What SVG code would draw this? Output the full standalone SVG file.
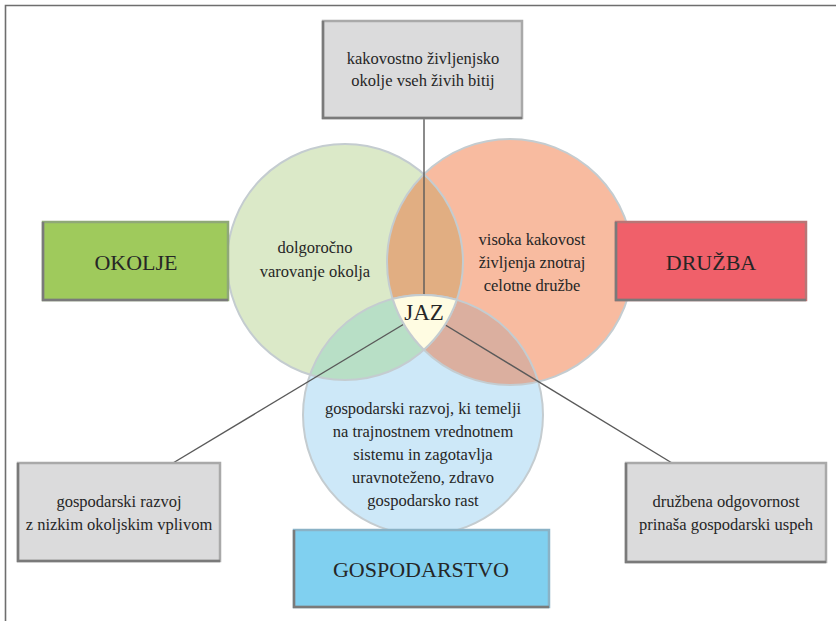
<svg xmlns="http://www.w3.org/2000/svg" width="836" height="621" viewBox="0 0 836 621">
<style>
text{font-family:"Liberation Serif","DejaVu Serif",serif;fill:#262626;text-anchor:middle}
.t{font-size:16.5px}
.big{font-size:22px}
.ring{fill:none;stroke:#c4ccd0;stroke-width:2}
.conn{stroke:#5a5a5a;stroke-width:1.4;fill:none}
.gbox{fill:#dbdbdc;stroke:#a9a9a9;stroke-width:2.5}
.sh{fill:none;stroke:#7a7a7a;stroke-width:2.5}
</style>
<defs>
<clipPath id="cg"><circle cx="345" cy="262" r="118"/></clipPath>
<clipPath id="co"><circle cx="510" cy="262" r="123"/></clipPath>
</defs>
<rect width="836" height="621" fill="#fff"/>
<polyline points="5.5,621 5.5,5.5 836,5.5" fill="none" stroke="#6e6e6e" stroke-width="1.6"/>

<g id="circles">
<circle cx="345" cy="262" r="118" fill="#dbe9c8"/>
<circle cx="510" cy="262" r="123" fill="#f8bba0"/>
<circle cx="423" cy="415" r="120" fill="#cde8f8"/>
<circle cx="510" cy="262" r="123" fill="#e1ae82" clip-path="url(#cg)"/>
<circle cx="423" cy="415" r="120" fill="#b8dfc6" clip-path="url(#cg)"/>
<circle cx="423" cy="415" r="120" fill="#dbaf9f" clip-path="url(#co)"/>
<circle class="ring" cx="345" cy="262" r="118"/>
<circle class="ring" cx="510" cy="262" r="123"/>
<circle class="ring" cx="423" cy="415" r="120"/>
<text class="t" x="315" y="253">dolgoročno</text>
<text class="t" x="315" y="277">varovanje okolja</text>
<text class="t" x="532" y="245">visoka kakovost</text>
<text class="t" x="532" y="268">življenja znotraj</text>
<text class="t" x="532" y="291">celotne družbe</text>
<text class="t" x="423" y="414">gospodarski razvoj, ki temelji</text>
<text class="t" x="423" y="437">na trajnostnem vrednotnem</text>
<text class="t" x="423" y="460">sistemu in zagotavlja</text>
<text class="t" x="423" y="483">uravnoteženo, zdravo</text>
<text class="t" x="423" y="506">gospodarsko rast</text>
</g>

<g id="connectors">
<line class="conn" x1="424" y1="119" x2="424" y2="322"/>
<line class="conn" x1="424" y1="312" x2="173" y2="463"/>
<line class="conn" x1="424" y1="312" x2="672" y2="463"/>
</g>

<g id="jaz">
<path d="M392.7 298.9 A120 120 0 0 1 456.8 299.9 A118 118 0 0 1 423.9 349.8 A123 123 0 0 1 392.7 298.9 Z" fill="#fffce2" stroke="#c4ccd0" stroke-width="2"/>
<text x="424" y="320" style="font-size:23px">JAZ</text>
</g>

<g id="top-box">
<rect class="gbox" x="323" y="21" width="199" height="97"/>
<polyline class="sh" points="323,21 323,118 522,118"/>
<text class="t" x="423" y="64">kakovostno življenjsko</text>
<text class="t" x="423" y="86">okolje vseh živih bitij</text>
</g>

<g id="okolje">
<rect x="43" y="222" width="185" height="78" fill="#9fca5c" stroke="#8fa878" stroke-width="2.5"/>
<polyline class="sh" points="43,222 43,300 228,300"/>
<text class="big" x="136" y="270">OKOLJE</text>
</g>

<g id="druzba">
<rect x="616" y="222" width="190" height="78" fill="#f0606a" stroke="#b87676" stroke-width="2.5"/>
<polyline class="sh" points="616,222 616,300 806,300"/>
<text class="big" x="711" y="270">DRUŽBA</text>
</g>

<g id="gospodarstvo">
<rect x="294" y="530" width="255" height="77" fill="#80d0f0" stroke="#8ab2c6" stroke-width="2.5"/>
<polyline class="sh" points="294,530 294,607 549,607"/>
<text class="big" x="421" y="577">GOSPODARSTVO</text>
</g>

<g id="left-box">
<rect class="gbox" x="18" y="463" width="202" height="98"/>
<polyline class="sh" points="18,463 18,561 220,561"/>
<text class="t" x="119" y="507">gospodarski razvoj</text>
<text class="t" x="119" y="530">z nizkim okoljskim vplivom</text>
</g>

<g id="right-box">
<rect class="gbox" x="626" y="463" width="200" height="99"/>
<polyline class="sh" points="626,463 626,562 826,562"/>
<text class="t" x="726" y="507">družbena odgovornost</text>
<text class="t" x="726" y="530">prinaša gospodarski uspeh</text>
</g>
</svg>
